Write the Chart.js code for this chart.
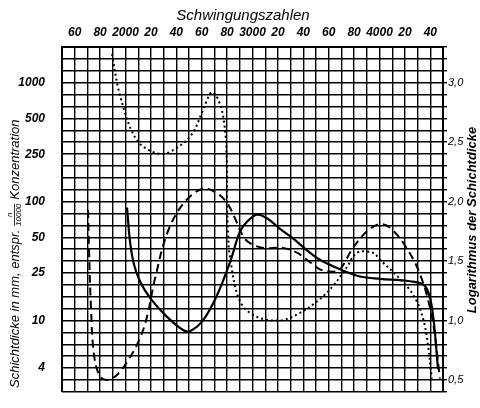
<!DOCTYPE html>
<html>
<head>
<meta charset="utf-8">
<script src="https://cdn.jsdelivr.net/npm/chart.js@4/dist/chart.umd.min.js"></script>
<style>
  html, body { margin: 0; padding: 0; background: #fff; }
  #wrap { width: 480px; height: 408px; }
</style>
</head>
<body>
<div id="wrap"><canvas id="chart" width="480" height="408"></canvas></div>
<script>
// Schwingungszahlen (oben), Logarithmus der Schichtdicke (rechts)
const topTickValues = [1600, 1800, 2000, 2200, 2400, 2600, 2800, 3000, 3200, 3400, 3600, 3800, 4000, 4200, 4400];
const topTickLabels = ['60', '80', '2000', '20', '40', '60', '80', '3000', '20', '40', '60', '80', '4000', '20', '40'];

const leftTickValues = [1000, 500, 250, 100, 50, 25, 10, 4];
const leftTickLabels = ['1000', '500', '250', '100', '50', '25', '10', '4'];

const rightTickValues = [3.0, 2.5, 2.0, 1.5, 1.0, 0.5];
const rightTickLabels = ['3,0', '2,5', '2,0', '1,5', '1,0', '0,5'];

// ausgezogene Kurve
const solidFreq = [2012, 2035, 2067, 2114, 2193, 2327, 2453, 2508, 2610, 2720, 2823, 2902, 2957, 3035, 3114, 3217, 3319, 3429, 3531, 3689, 3846, 4004, 4240, 4358, 4413, 4461];
const solidLog = [1.95, 1.67, 1.47, 1.33, 1.19, 1.03, 0.92, 0.91, 1.00, 1.21, 1.49, 1.75, 1.83, 1.89, 1.86, 1.77, 1.69, 1.59, 1.51, 1.43, 1.37, 1.35, 1.33, 1.29, 1.11, 0.59];

// gestrichelte Kurve
const dashedFreq = [1705, 1713, 1728, 1752, 1799, 1862, 1941, 2035, 2114, 2169, 2232, 2327, 2453, 2610, 2720, 2799, 2862, 2925, 2980, 3083, 3240, 3350, 3453, 3531, 3634, 3689, 3791, 3902, 4004, 4083, 4201, 4319, 4413, 4476];
const dashedLog = [1.93, 1.59, 1.11, 0.71, 0.53, 0.50, 0.55, 0.69, 0.85, 1.03, 1.35, 1.73, 1.98, 2.11, 2.07, 1.99, 1.86, 1.71, 1.65, 1.61, 1.61, 1.57, 1.49, 1.43, 1.41, 1.43, 1.61, 1.75, 1.81, 1.78, 1.63, 1.39, 1.03, 0.51];

// punktierte Kurve
const dottedFreq = [1894, 1941, 1996, 2051, 2130, 2287, 2429, 2531, 2610, 2681, 2744, 2783, 2799, 2799, 2807, 2823, 2902, 3035, 3217, 3350, 3508, 3634, 3744, 3823, 3949, 4004, 4161, 4280, 4358, 4413];
const dottedLog = [3.24, 2.96, 2.75, 2.59, 2.47, 2.40, 2.47, 2.58, 2.77, 2.92, 2.82, 2.61, 2.29, 2.02, 1.75, 1.53, 1.16, 1.03, 1.00, 1.05, 1.16, 1.29, 1.45, 1.57, 1.57, 1.51, 1.35, 1.19, 0.95, 0.51];

function toPoints(xs, ys) {
    return xs.map((x, i) => ({ x: x, y: ys[i] }));
}

const tickFont = { family: 'Liberation Sans', size: 12, style: 'italic', weight: 'bold' };

// Achsentitel von Hand zeichnen (rechter Titel liest von unten nach oben)
const titlesPlugin = {
    id: 'titles',
    afterDraw(chart) {
        const ctx = chart.ctx;
        ctx.save();
        ctx.fillStyle = '#000';
        ctx.textBaseline = 'middle';

        ctx.font = 'italic 15px "Liberation Sans"';
        ctx.textAlign = 'center';
        ctx.fillText('Schwingungszahlen', 243, 16);

        // links
        ctx.save();
        ctx.translate(15, 388);
        ctx.rotate(-Math.PI / 2);
        ctx.textAlign = 'left';
        ctx.font = 'italic 13px "Liberation Sans"';
        const part1 = 'Schichtdicke in mm, entspr. ';
        ctx.fillText(part1, 0, 0);
        let pos = ctx.measureText(part1).width;
        ctx.font = 'italic 8px "Liberation Sans"';
        const fw = ctx.measureText('10000').width;
        ctx.textAlign = 'center';
        ctx.fillText('n', pos + fw / 2, -5);
        ctx.fillText('10000', pos + fw / 2, 4);
        ctx.fillRect(pos, -1, fw, 0.8);
        pos += fw + 4;
        ctx.textAlign = 'left';
        ctx.font = 'italic 13px "Liberation Sans"';
        ctx.fillText('Konzentration', pos, 0);
        ctx.restore();

        // rechts
        ctx.save();
        ctx.translate(472, 220);
        ctx.rotate(-Math.PI / 2);
        ctx.textAlign = 'center';
        ctx.font = 'italic bold 13px "Liberation Sans"';
        ctx.fillText('Logarithmus der Schichtdicke', 0, 0);
        ctx.restore();

        ctx.restore();
    }
};

new Chart(document.getElementById('chart'), {
    type: 'line',
    data: {
        datasets: [
            {
                label: 'ausgezogen',
                data: toPoints(solidFreq, solidLog),
                borderColor: '#000',
                borderWidth: 2.2,
                pointRadius: 0,
                tension: 0.35,
                yAxisID: 'y1'
            },
            {
                label: 'gestrichelt',
                data: toPoints(dashedFreq, dashedLog),
                borderColor: '#000',
                borderWidth: 2,
                borderDash: [8, 5],
                pointRadius: 0,
                tension: 0.35,
                yAxisID: 'y1'
            },
            {
                label: 'punktiert',
                data: toPoints(dottedFreq, dottedLog),
                borderColor: '#000',
                borderWidth: 2,
                borderDash: [2, 3],
                pointRadius: 0,
                tension: 0.35,
                yAxisID: 'y1'
            }
        ]
    },
    options: {
        responsive: false,
        animation: false,
        layout: { padding: 0 },
        plugins: {
            legend: { display: false },
            tooltip: { enabled: false }
        },
        scales: {
            x: {
                type: 'linear',
                position: 'top',
                min: 1500,
                max: 4500,
                afterFit: (scale) => { scale.height = 47; },
                afterBuildTicks: (scale) => {
                    const t = [];
                    for (let v = 1500; v <= 4500; v += 100) t.push({ value: v });
                    scale.ticks = t;
                },
                grid: { color: '#000', lineWidth: 1.4, drawTicks: false },
                border: { color: '#000', width: 2 },
                ticks: {
                    autoSkip: false,
                    maxRotation: 0,
                    padding: 7,
                    color: '#000',
                    font: tickFont,
                    callback: (v) => {
                        const i = topTickValues.indexOf(v);
                        return i >= 0 ? topTickLabels[i] : '';
                    }
                }
            },
            y: {
                type: 'logarithmic',
                position: 'left',
                min: Math.pow(10, 0.4),
                max: Math.pow(10, 3.3),
                afterFit: (scale) => { scale.width = 62; },
                afterBuildTicks: (scale) => {
                    scale.ticks = leftTickValues.map(v => ({ value: v }));
                },
                grid: { display: false },
                border: { color: '#000', width: 2 },
                ticks: {
                    autoSkip: false,
                    padding: 9,
                    color: '#000',
                    font: tickFont,
                    callback: (v) => {
                        const i = leftTickValues.indexOf(v);
                        return i >= 0 ? leftTickLabels[i] : '';
                    }
                }
            },
            y1: {
                type: 'linear',
                position: 'right',
                min: 0.4,
                max: 3.3,
                afterFit: (scale) => { scale.width = 37; },
                afterBuildTicks: (scale) => {
                    const t = [];
                    for (let k = 4; k <= 33; k++) t.push({ value: k / 10 });
                    scale.ticks = t;
                },
                grid: { color: '#000', lineWidth: 1.4, tickLength: 4 },
                border: { color: '#000', width: 2 },
                ticks: {
                    autoSkip: false,
                    padding: 1,
                    color: '#000',
                    font: { family: 'Liberation Sans', size: 11, style: 'italic' },
                    callback: (v) => {
                        const i = rightTickValues.findIndex(r => Math.abs(r - v) < 1e-6);
                        return i >= 0 ? rightTickLabels[i] : '';
                    }
                }
            }
        }
    },
    plugins: [titlesPlugin]
});
</script>
</body>
</html>
